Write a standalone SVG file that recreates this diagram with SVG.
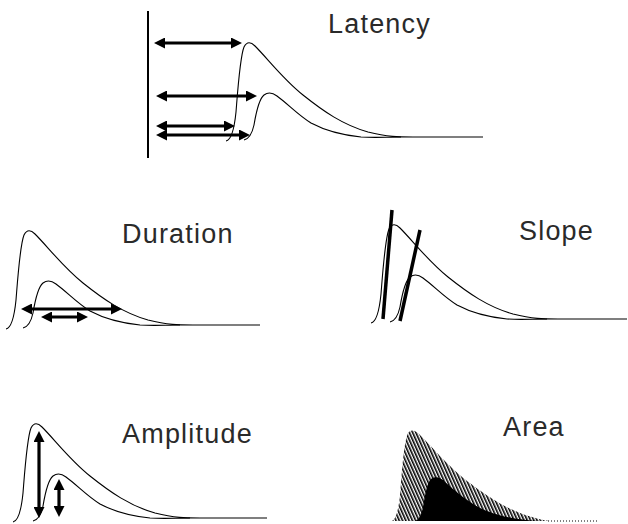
<svg xmlns="http://www.w3.org/2000/svg" xmlns:xlink="http://www.w3.org/1999/xlink" width="628" height="524" viewBox="0 0 628 524">
<style>
.lbl{font-family:"Liberation Sans",Arial,sans-serif;font-size:27px;letter-spacing:1.2px;fill:#2a2a2a}
.crv{fill:none;stroke:#000;stroke-width:1.1}
.arr{stroke:#000;stroke-width:3.2;marker-start:url(#ah);marker-end:url(#ah)}
.thick{stroke:#000;stroke-width:3.5;stroke-linecap:butt}
</style>
<defs>
<marker id="ah" viewBox="0 0 11 11" refX="4" refY="5.5" markerWidth="11" markerHeight="11" markerUnits="userSpaceOnUse" orient="auto-start-reverse">
<path d="M0,0 L11,5.5 L0,11 z" fill="#000"/>
</marker>
<path id="big" d="M-2,4 C3,3 6,-5 8,-25 C10,-50 12,-80 16,-90 C19,-96 23,-95 27,-91 C40,-78 55,-58 75,-42 C95,-26 115,-12 140,-5 C160,0 170,0 185,0"/>
<path id="small" d="M-2,3 C3,2 6,-3 8,-12 C10,-24 13,-38 18,-42 C22,-45 27,-44 31,-41 C42,-33 52,-22 65,-14 C80,-6 95,-2 115,0 C130,1 140,0 155,0"/>
<path id="bigA" d="M0,0 C3,-1 6,-8 8,-25 C10,-50 12,-80 16,-88 C19,-92 23,-91 27,-87 C40,-74 55,-56 75,-40 C95,-25 115,-11 140,-4 C150,-1 155,0 160,0 Z"/>
<path id="smallA" d="M0,0 C3,-1 6,-4 8,-14 C10,-26 12,-38 16,-42 C20,-45 25,-44 29,-40 C40,-30 52,-20 65,-13 C80,-6 95,-2 125,0 Z"/>
<pattern id="hatch" width="3" height="10" patternUnits="userSpaceOnUse" patternTransform="rotate(-24)">
<rect x="0" y="0" width="1.6" height="10" fill="#000"/>
</pattern>
</defs>

<g id="latency">
<line x1="148" y1="11" x2="148" y2="158" stroke="#000" stroke-width="2"/>
<use href="#big" class="crv" transform="translate(228,137)"/>
<use href="#small" class="crv" transform="translate(246,137)"/>
<line x1="413" y1="137" x2="483" y2="137" stroke="#000" stroke-width="1.1"/>
<text class="lbl" x="328" y="33">Latency</text>
</g>

<g id="duration">
<use href="#big" class="crv" transform="translate(8,325)"/>
<use href="#small" class="crv" transform="translate(25,325)"/>
<line x1="193" y1="325" x2="260" y2="325" stroke="#000" stroke-width="1.1"/>
<text class="lbl" x="122" y="243">Duration</text>
</g>

<g id="slope">
<use href="#big" class="crv" transform="translate(373,319)"/>
<use href="#small" class="crv" transform="translate(392,319)"/>
<line x1="558" y1="319" x2="627" y2="319" stroke="#000" stroke-width="1.1"/>
<text class="lbl" x="519" y="240">Slope</text>
</g>

<g id="amplitude">
<use href="#big" class="crv" transform="translate(15,518)"/>
<use href="#small" class="crv" transform="translate(35,518)"/>
<line x1="200" y1="518" x2="267" y2="518" stroke="#000" stroke-width="1.1"/>
<text class="lbl" x="122" y="443">Amplitude</text>
</g>

<g id="area">
<use href="#bigA" fill="url(#hatch)" transform="translate(392,521)"/>
<use href="#smallA" fill="#000" transform="translate(415,521)"/>
<line x1="548" y1="521" x2="597" y2="521" stroke="#000" stroke-width="1" stroke-dasharray="1,2"/>
<text class="lbl" x="503" y="436">Area</text>
</g>

<g id="connectors">
<line class="arr" x1="161" y1="43" x2="235" y2="43"/>
<line class="arr" x1="163" y1="96" x2="250" y2="96"/>
<line class="arr" x1="163" y1="126" x2="228" y2="126"/>
<line class="arr" x1="163" y1="135" x2="243" y2="135"/>
<line class="arr" x1="28" y1="309" x2="115" y2="309"/>
<line class="arr" x1="48" y1="317" x2="81" y2="317"/>
<line class="arr" x1="39" y1="438" x2="39" y2="511"/>
<line class="arr" x1="59" y1="486" x2="59" y2="510"/>
<line class="thick" x1="392" y1="210" x2="383" y2="319"/>
<line class="thick" x1="420" y1="230" x2="400" y2="321"/>
</g>
</svg>
